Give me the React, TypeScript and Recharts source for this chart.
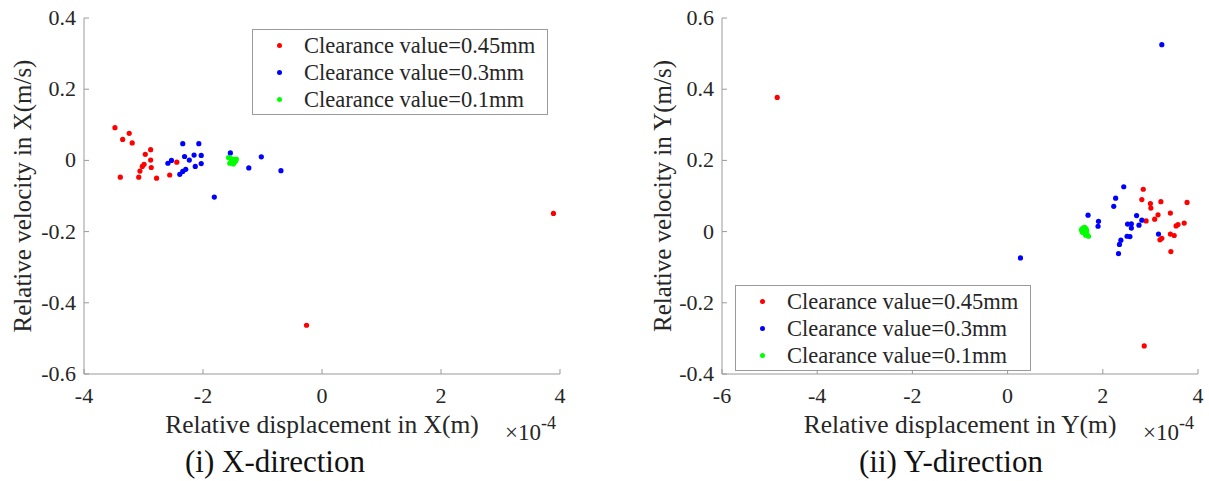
import { Label, Legend, Scatter, ScatterChart, XAxis, YAxis } from "recharts";

// x values are in units of 1e-4 m (the axes carry a "×10^-4" multiplier)
const xTicksX = [-4, -2, 0, 2, 4];
const yTicksX = [-0.6, -0.4, -0.2, 0, 0.2, 0.4];
const xTicksY = [-6, -4, -2, 0, 2, 4];
const yTicksY = [-0.4, -0.2, 0, 0.2, 0.4, 0.6];

const seriesNames = [
  "Clearance value=0.45mm",
  "Clearance value=0.3mm",
  "Clearance value=0.1mm",
];
const seriesColors = ["#ff0000", "#0000ff", "#00ff00"];

// (i) X-direction
const xDirRed = [
  [-3.48, 0.092], [-3.35, 0.059], [-3.24, 0.076], [-3.19, 0.049],
  [-3.39, -0.047], [-3.08, -0.047], [-3.06, -0.03], [-3.02, -0.017],
  [-2.99, -0.011], [-2.97, 0.017], [-2.88, 0.03], [-2.88, 0.001],
  [-2.87, -0.02], [-2.78, -0.05], [-2.56, -0.041], [-2.44, -0.005],
  [-0.26, -0.463], [3.89, -0.149],
];
const xDirBlue = [
  [-2.34, 0.047], [-2.07, 0.047], [-2.31, 0.011], [-2.15, 0.015],
  [-2.03, 0.014], [-2.23, 0.001], [-2.53, 0.0], [-2.59, -0.008],
  [-2.03, -0.009], [-2.13, -0.017], [-2.29, -0.025], [-2.34, -0.031],
  [-2.39, -0.039], [-1.54, 0.021], [-1.23, -0.021], [-1.02, 0.01],
  [-0.69, -0.029], [-1.81, -0.103],
];
const xDirGreen = [
  [-1.57, 0.008], [-1.53, 0.005], [-1.5, 0.003], [-1.47, 0.002],
  [-1.45, 0.0], [-1.52, -0.004], [-1.48, -0.006], [-1.55, -0.008],
  [-1.46, -0.003], [-1.51, 0.0], [-1.44, 0.004], [-1.49, -0.01],
];

// (ii) Y-direction
const yDirRed = [
  [-4.84, 0.377], [2.85, 0.119], [2.82, 0.09], [3.0, 0.079],
  [3.01, 0.066], [3.22, 0.084], [2.91, 0.03], [3.09, 0.035],
  [3.16, 0.047], [3.42, 0.052], [3.77, 0.082], [3.71, 0.024],
  [3.58, 0.02], [3.54, 0.016], [3.42, -0.007], [3.5, -0.011],
  [3.24, -0.019], [3.2, -0.023], [3.43, -0.056], [2.87, -0.321],
];
const yDirBlue = [
  [3.24, 0.525], [2.44, 0.126], [2.27, 0.094], [2.23, 0.071],
  [1.69, 0.046], [1.91, 0.029], [1.9, 0.015], [2.71, 0.045],
  [2.82, 0.032], [2.76, 0.018], [2.52, 0.021], [2.6, 0.022],
  [2.6, 0.01], [2.51, -0.013], [2.57, -0.014], [2.38, -0.024],
  [2.35, -0.036], [2.33, -0.062], [3.17, -0.007], [0.27, -0.074],
];
const yDirGreen = [
  [1.55, 0.005], [1.58, 0.01], [1.62, 0.012], [1.65, 0.008],
  [1.6, 0.0], [1.63, -0.004], [1.67, -0.008], [1.7, -0.013],
  [1.57, -0.002], [1.66, 0.002], [1.61, 0.006], [1.64, -0.01],
];

const FONT = "'Liberation Serif', 'Times New Roman', serif";
const AXIS = "#9a9a9a";
const INK = "#262626";

const toPoints = (arr: number[][]) => arr.map(([x, y]) => ({ x, y }));

const fmtY = (v: number) => (v === 0 ? "0" : v.toFixed(1));

const tickStyle = { fontFamily: FONT, fontSize: 22, fill: INK };

const Dot = (color: string) => (p: any) =>
  <circle cx={p.cx} cy={p.cy} r={2.6} fill={color} />;

const BottomTick = ({ x, y, payload }: any) => (
  <g>
    <line x1={x} x2={x} y1={y} y2={y - 5} stroke={AXIS} />
    <text x={x} y={y + 29} textAnchor="middle" style={tickStyle}>
      {payload.value}
    </text>
  </g>
);
const TopTick = ({ x, y }: any) => (
  <line x1={x} x2={x} y1={y} y2={y + 5} stroke={AXIS} />
);
const LeftTick = ({ x, y, payload }: any) => (
  <g>
    <line x1={x} x2={x + 5} y1={y} y2={y} stroke={AXIS} />
    <text x={x - 8} y={y + 7} textAnchor="end" style={tickStyle}>
      {fmtY(payload.value)}
    </text>
  </g>
);
const RightTick = ({ x, y }: any) => (
  <line x1={x} x2={x - 5} y1={y} y2={y} stroke={AXIS} />
);

const LegendBox = () => (
  <div
    style={{
      border: `1px solid ${AXIS}`,
      background: "#fff",
      width: 294,
      height: 82,
      paddingTop: 2,
      boxSizing: "content-box",
      fontFamily: FONT,
      fontSize: 22.5,
      color: INK,
    }}
  >
    {seriesNames.map((name, i) => (
      <div key={name} style={{ display: "flex", alignItems: "center", height: 27 }}>
        <span
          style={{
            width: 5,
            height: 5,
            borderRadius: 3,
            background: seriesColors[i],
            marginLeft: 24,
            marginRight: 22,
            flex: "none",
          }}
        />
        <span style={{ whiteSpace: "nowrap" }}>{name}</span>
      </div>
    ))}
  </div>
);

function Panel({
  series,
  xDomain,
  xTicks,
  yDomain,
  yTicks,
  xTitle,
  yTitle,
  width,
  yAxisWidth,
  rightMargin,
  legendPos,
}: any) {
  return (
    <ScatterChart
      width={width}
      height={481}
      margin={{ top: 18, right: rightMargin, left: 0, bottom: 45 }}
    >
      <XAxis
        type="number"
        dataKey="x"
        domain={xDomain}
        ticks={xTicks}
        height={62}
        tickSize={0}
        tickMargin={0}
        tickLine={false}
        axisLine={{ stroke: AXIS }}
        tick={<BottomTick />}
        interval={0}
      >
        <Label
          value={xTitle}
          position="insideBottom"
          offset={3}
          style={{ fontFamily: FONT, fontSize: 25.5, fill: INK }}
        />
        <Label
          content={({ viewBox }: any) => (
            <text
              x={viewBox.x + viewBox.width - 55}
              y={viewBox.y + 66}
              style={{ fontFamily: FONT, fontSize: 23, fill: INK }}
            >
              ×10
              <tspan dy={-11} style={{ fontSize: 18 }}>-4</tspan>
            </text>
          )}
        />
      </XAxis>
      <XAxis
        xAxisId="top"
        orientation="top"
        type="number"
        domain={xDomain}
        ticks={xTicks}
        height={0}
        tickSize={0}
        tickMargin={0}
        tickLine={false}
        axisLine={{ stroke: AXIS }}
        tick={<TopTick />}
        interval={0}
      />
      <YAxis
        type="number"
        dataKey="y"
        domain={yDomain}
        ticks={yTicks}
        width={yAxisWidth}
        tickSize={0}
        tickMargin={0}
        tickLine={false}
        axisLine={{ stroke: AXIS }}
        tick={<LeftTick />}
        interval={0}
      >
        <Label
          content={({ viewBox }: any) => {
            const cx = viewBox.x + 22;
            const cy = viewBox.y + viewBox.height / 2;
            return (
              <text
                x={cx}
                y={cy}
                transform={`rotate(-90, ${cx}, ${cy})`}
                textAnchor="middle"
                dominantBaseline="central"
                style={{ fontFamily: FONT, fontSize: 25, fill: INK }}
              >
                {yTitle}
              </text>
            );
          }}
        />
      </YAxis>
      <YAxis
        yAxisId="right"
        orientation="right"
        type="number"
        domain={yDomain}
        ticks={yTicks}
        width={0}
        tickSize={0}
        tickMargin={0}
        tickLine={false}
        axisLine={{ stroke: AXIS }}
        tick={<RightTick />}
        interval={0}
      />
      <Legend
        layout="vertical"
        align="center"
        verticalAlign="middle"
        content={<LegendBox />}
        wrapperStyle={{ left: legendPos[0], top: legendPos[1], width: 296 }}
      />
      {series.map((pts: number[][], i: number) => (
        <Scatter
          key={seriesNames[i]}
          name={seriesNames[i]}
          data={toPoints(pts)}
          fill={seriesColors[i]}
          shape={Dot(seriesColors[i])}
          isAnimationActive={false}
        />
      ))}
    </ScatterChart>
  );
}

export default function App() {
  return (
    <div
      style={{
        position: "absolute",
        left: 0,
        top: 0,
        width: 1209,
        height: 481,
        background: "#fff",
      }}
    >
      <div style={{ position: "absolute", left: 0, top: 0 }}>
        <Panel
          series={[xDirRed, xDirBlue, xDirGreen]}
          xDomain={[-4, 4]}
          xTicks={xTicksX}
          yDomain={[-0.6, 0.4]}
          yTicks={yTicksX}
          xTitle="Relative displacement in X(m)"
          yTitle="Relative velocity in X(m/s)"
          width={600}
          yAxisWidth={84}
          rightMargin={40}
          legendPos={[252, 29]}
        />
      </div>
      <div style={{ position: "absolute", left: 640, top: 0 }}>
        <Panel
          series={[yDirRed, yDirBlue, yDirGreen]}
          xDomain={[-6, 4]}
          xTicks={xTicksY}
          yDomain={[-0.4, 0.6]}
          yTicks={yTicksY}
          xTitle="Relative displacement in Y(m)"
          yTitle="Relative velocity in Y(m/s)"
          width={569}
          yAxisWidth={82}
          rightMargin={11}
          legendPos={[95, 285]}
        />
      </div>
      <svg
        width={1209}
        height={481}
        style={{ position: "absolute", left: 0, top: 0, pointerEvents: "none" }}
      >
        <text x={275} y={472} textAnchor="middle" style={{ fontFamily: FONT, fontSize: 31, fill: "#111" }}>
          (i) X-direction
        </text>
        <text x={951} y={472} textAnchor="middle" style={{ fontFamily: FONT, fontSize: 31, fill: "#111" }}>
          (ii) Y-direction
        </text>
      </svg>
    </div>
  );
}
